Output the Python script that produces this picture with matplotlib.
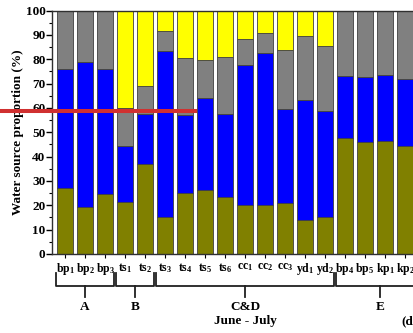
import matplotlib
matplotlib.use("Agg")
import matplotlib.pyplot as plt
import numpy as np
from matplotlib import transforms
from matplotlib.lines import Line2D
from matplotlib.ticker import MultipleLocator

plt.rcParams['font.family'] = 'Liberation Serif'
plt.rcParams['font.weight'] = 'bold'
plt.rcParams['mathtext.fontset'] = 'custom'
plt.rcParams['mathtext.rm'] = 'Liberation Serif:bold'
plt.rcParams['mathtext.it'] = 'Liberation Serif:bold'
plt.rcParams['mathtext.bf'] = 'Liberation Serif:bold'

# sample sites (name + subscript)
site_names = ["bp", "bp", "bp", "ts", "ts", "ts", "ts", "ts", "ts",
              "cc", "cc", "cc", "yd", "yd", "bp", "bp", "kp", "kp"]
site_nums = [1, 2, 3, 1, 2, 3, 4, 5, 6, 1, 2, 3, 1, 2, 4, 5, 1, 2]

# water source proportions (%), stacked bottom -> top
olive = [27, 19.4, 24.6, 21.5, 37, 15, 25, 26.3, 23.3,
         20.1, 20.1, 21, 14, 15, 47.5, 46.1, 46.5, 44.4]
blue = [49, 59.6, 51.4, 23, 20.4, 68.4, 32.2, 37.7, 34.2,
        57.5, 62.3, 38.5, 49.2, 43.7, 25.6, 26.7, 27.1, 27.6]
gray = [24, 21, 24, 15.5, 11.6, 8.2, 23.4, 15.6, 23.3,
        10.6, 8.2, 24.3, 26.5, 26.7, 26.9, 27.2, 26.4, 28]
yellow = [0, 0, 0, 40, 31, 8.4, 19.4, 20.4, 19.2,
          11.8, 9.4, 16.2, 10.3, 14.6, 0, 0, 0, 0]

# groups under the x axis: label, first bar, last bar
groups = [("A", 0, 2), ("B", 3, 4), ("C&D\nJune - July", 5, 13), ("E", 14, 17.5)]

red_line_y = 58.7

fig = plt.figure(figsize=(4.14, 3.33), dpi=100)
W, H = 414, 333
ax = fig.add_axes([52.5 / W, 79 / H, (435 - 52.5) / W, 243.5 / H])

x = np.arange(len(site_names))
bottom = np.zeros(len(x))
for vals, col in [(olive, '#808000'), (blue, '#0000ff'),
                  (gray, '#808080'), (yellow, '#ffff00')]:
    ax.bar(x, vals, 0.8, bottom=bottom, color=col,
           edgecolor='#404040', linewidth=0.6)
    bottom = bottom + np.array(vals)

ax.set_xlim(-0.625, 18.5)
ax.set_ylim(0, 100)
ax.yaxis.set_major_locator(MultipleLocator(10))
ax.yaxis.set_minor_locator(MultipleLocator(5))
ax.set_xticks(x)
ax.set_xticklabels([r"$\mathrm{%s_%d}$" % (n, s) for n, s in zip(site_names, site_nums)],
                   fontsize=8.5)
ax.tick_params(axis='y', labelsize=9.5, length=4, width=1, pad=1)
ax.tick_params(axis='y', which='minor', length=2.5, width=0.8)
ax.tick_params(axis='x', length=3, width=0.8, pad=2)
for s in ax.spines.values():
    s.set_linewidth(1)
    s.set_color('#303030')
ax.set_ylabel("Water source proportion (%)", fontsize=9.5, fontweight='bold', labelpad=1)

# brackets for the groups
trans = transforms.blended_transform_factory(ax.transData, fig.transFigure)
y_line = 1 - 285.7 / H
y_end = 1 - 273 / H
y_stem = 1 - 296.7 / H
for label, a, b in groups:
    x0, x1 = a - 0.45, b + 0.45
    xm = (a + b) / 2
    ax.add_line(Line2D([x0, x0, x1, x1], [y_end, y_line, y_line, y_end],
                       transform=trans, color='#202020', lw=1.3, clip_on=False))
    ax.add_line(Line2D([xm, xm], [y_line, y_stem],
                       transform=trans, color='#202020', lw=1.3, clip_on=False))
    ax.text(xm, 1 - 301.5 / H, label, transform=trans, ha='center', va='top',
            fontsize=9.5, fontweight='bold', linespacing=1.2)

fig.text(401.5 / W, 1 - 321.7 / H, "(d)", ha='left', va='center',
         fontsize=9.5, fontweight='bold')

# red marker line
rtrans = transforms.blended_transform_factory(fig.transFigure, ax.transData)
fig.add_artist(Line2D([0, 195 / W], [red_line_y, red_line_y], transform=rtrans,
                      color='#d03030', lw=2.9))

fig.savefig("out.png", dpi=100)
